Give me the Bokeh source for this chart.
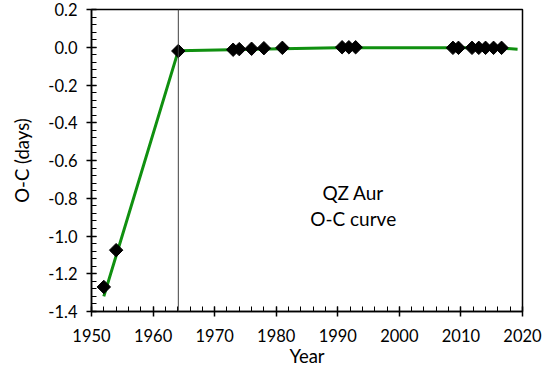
import math
from bokeh.plotting import figure
from bokeh.models import Span, FixedTicker, NumeralTickFormatter, Range1d, Label
from bokeh.embed import file_html
from bokeh.resources import INLINE

years = [1952.0, 1954.0, 1964.1, 1973.0, 1974.0, 1976.0, 1978.0, 1981.0,
         1990.7, 1991.8, 1992.9, 2008.7, 2009.6, 2011.8, 2012.9, 2014.0, 2015.3, 2016.6]
oc = [-1.27, -1.075, -0.02, -0.013, -0.01, -0.008, -0.005, -0.003,
      0.0, 0.0, 0.0, -0.003, -0.003, -0.003, -0.003, -0.003, -0.003, -0.003]

fit_years = [1952.0, 1964.1, 1990.0, 2015.0, 2019.2]
fit_oc = [-1.32, -0.018, -0.002, -0.002, -0.01]

vline_year = 1964.1
x_ticks = [1950, 1960, 1970, 1980, 1990, 2000, 2010, 2020]
y_ticks = [-1.4, -1.2, -1.0, -0.8, -0.6, -0.4, -0.2, 0.0, 0.2]
title_lines = ["QZ Aur", "O-C curve"]

FONT = "Lato"

p = figure(width=542, height=369, output_backend="svg", toolbar_location=None,
           x_range=Range1d(1950, 2020), y_range=Range1d(-1.4, 0.2),
           min_border_left=91, min_border_right=20, min_border_top=9, min_border_bottom=58)
p.xgrid.visible = False
p.ygrid.visible = False
p.outline_line_color = "black"
p.outline_line_width = 1.5
p.background_fill_color = "white"
p.border_fill_color = "white"

p.xaxis.ticker = FixedTicker(ticks=x_ticks, minor_ticks=list(range(1950, 2021, 2)))
p.yaxis.ticker = FixedTicker(ticks=y_ticks, minor_ticks=[round(-1.4 + 0.04 * i, 2) for i in range(41)])
p.yaxis.formatter = NumeralTickFormatter(format="0.0")

for ax in (p.xaxis[0], p.yaxis[0]):
    ax.axis_line_color = "black"
    ax.axis_line_width = 1.5
    ax.major_tick_line_color = "black"
    ax.major_tick_line_width = 1.5
    ax.minor_tick_line_color = "black"
    ax.minor_tick_line_width = 1
    ax.major_tick_in = 5
    ax.major_tick_out = 5
    ax.minor_tick_in = 5
    ax.minor_tick_out = 0
    ax.major_label_text_font = FONT
    ax.major_label_text_font_size = "16.5px"
    ax.major_label_text_color = "black"
    ax.axis_label_text_font = FONT
    ax.axis_label_text_font_size = "18.5px"
    ax.axis_label_text_font_style = "normal"
    ax.axis_label_text_color = "black"

p.xaxis.axis_label = "Year"
p.yaxis.axis_label = "O-C (days)"
p.xaxis.major_label_standoff = 12
p.xaxis.axis_label_standoff = 0
p.yaxis.major_label_standoff = 9
p.yaxis.axis_label_standoff = 12

p.add_layout(Span(location=vline_year, dimension="height", line_color="#404040", line_width=1))

p.line(fit_years, fit_oc, line_color="#109010", line_width=3)
p.scatter(years, oc, marker="square", angle=math.pi / 4, size=9.5,
          fill_color="black", line_color="black")

p.add_layout(Label(x=1992.5, y=-0.77, text=title_lines[0], text_align="center", text_baseline="middle",
                   text_font=FONT, text_font_size="19px", text_color="black"))
p.add_layout(Label(x=1992.5, y=-0.905, text=title_lines[1], text_align="center", text_baseline="middle",
                   text_font=FONT, text_font_size="19px", text_color="black"))

open("out.html", "w").write(file_html(p, INLINE))
